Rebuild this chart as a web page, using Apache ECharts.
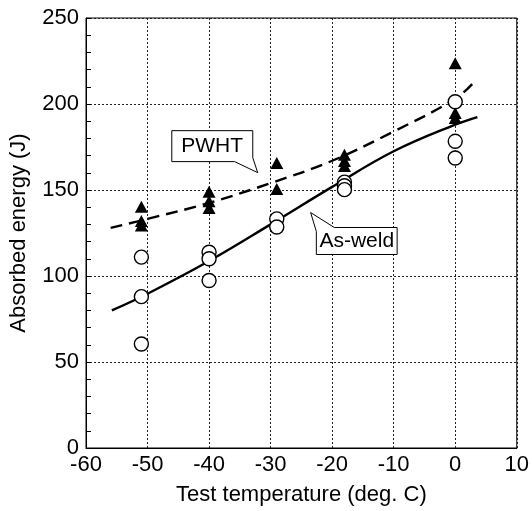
<!DOCTYPE html>
<html>
<head>
<meta charset="utf-8">
<script src="https://cdn.jsdelivr.net/npm/echarts@6/dist/echarts.min.js"></script>
<style>html,body{margin:0;padding:0;background:#fff}#c{width:532px;height:511px}</style>
</head>
<body>
<div id="c"></div>
<script>
// ---- data ----
var asWeldPoints = [
  [-51, 111], [-51, 88], [-51, 60.5],
  [-40, 113.8], [-40, 110], [-40, 97.4],
  [-29, 133.2], [-29, 128.5],
  [-18, 154.6], [-18, 152.5], [-18, 150.2],
  [0, 201.3], [0, 178.3], [0, 168.6]
];
var pwhtPoints = [
  [-51, 140.2], [-51, 132], [-51, 129.3],
  [-40, 149], [-40, 143.5], [-40, 139.6],
  [-29, 165.7], [-29, 150.6],
  [-18, 170.5], [-18, 166.8], [-18, 164],
  [0, 223.7], [0, 194.7], [0, 191.8]
];
var asWeldCurve = [
  [-55.8, 80], [-50, 89.7], [-40, 108.7], [-30, 130], [-20, 151.8], [-10, 172.5], [0, 188], [3.6, 192.4]
];
var pwhtCurve = [
  [-56, 128], [-50, 133.2], [-40, 142.5], [-30, 154], [-20, 167], [-10, 184], [0, 203], [3, 212.5]
];
var xTicks = [-60, -50, -40, -30, -20, -10, 0, 10];
var yTicks = [0, 50, 100, 150, 200, 250];
var calloutTexts = ['PWHT', 'As-weld'];

// ---- chart ----
var FONT = '"Liberation Sans", Arial, Helvetica, sans-serif';
var chart = echarts.init(document.getElementById('c'), null, {renderer: 'canvas'});
var gridLine = {show: true, lineStyle: {type: [2, 2], color: '#222', width: 1}};
chart.setOption({
  animation: false,
  backgroundColor: '#fff',
  grid: {left: 86, top: 18, right: 14, bottom: 62, show: true, borderColor: '#000', borderWidth: 1, backgroundColor: 'transparent'},
  xAxis: {
    type: 'value', min: xTicks[0], max: xTicks[xTicks.length - 1], interval: 10,
    name: 'Test temperature (deg. C)', nameLocation: 'middle', nameGap: 36,
    nameTextStyle: {fontFamily: FONT, fontSize: 22, color: '#000'},
    axisLine: {show: true, onZero: false, lineStyle: {color: '#000', width: 1}},
    axisTick: {show: false},
    axisLabel: {fontFamily: FONT, fontSize: 22, color: '#000', margin: 6},
    splitLine: gridLine
  },
  yAxis: {
    type: 'value', min: yTicks[0], max: yTicks[yTicks.length - 1], interval: 50,
    name: 'Absorbed energy (J)', nameLocation: 'middle', nameGap: 56,
    nameTextStyle: {fontFamily: FONT, fontSize: 22, color: '#000'},
    axisLine: {show: true, onZero: false, lineStyle: {color: '#000', width: 1}},
    axisTick: {show: true, inside: true, length: 5, lineStyle: {color: '#000'}},
    minorTick: {show: true, splitNumber: 5, length: 5, lineStyle: {color: '#000'}},
    axisLabel: {fontFamily: FONT, fontSize: 22, color: '#000', margin: 7},
    splitLine: gridLine
  },
  series: [
    {type: 'line', data: pwhtCurve, smooth: 0.4, symbol: 'none', z: 2,
     lineStyle: {color: '#000', width: 2.4, type: [12, 7]}},
    {type: 'line', data: asWeldCurve, smooth: 0.4, symbol: 'none', z: 2,
     lineStyle: {color: '#000', width: 2.4}},
    {type: 'scatter', data: pwhtPoints, symbol: 'triangle', symbolSize: [13, 12], z: 4,
     itemStyle: {color: '#000', opacity: 1}},
    {type: 'scatter', data: asWeldPoints, symbol: 'circle', symbolSize: 14, z: 5,
     itemStyle: {color: '#fff', borderColor: '#000', borderWidth: 1.4, opacity: 1}}
  ]
});

// ---- callouts (positions in data coordinates) ----
var callouts = [
  {text: calloutTexts[0], poly: [[-46.06, 184.5], [-32.9, 184.5], [-32.9, 168.8], [-32.1, 160.1], [-35.85, 166.5], [-46.06, 166.5]],
   center: [-39.5, 175.5]},
  {text: calloutTexts[1], poly: [[-22.57, 125.9], [-23.5, 136.9], [-19.65, 128.2], [-9.44, 128.2], [-9.44, 112.5], [-22.57, 112.5]],
   center: [-16.0, 120.3]}
];
function px(p) { return chart.convertToPixel({gridIndex: 0}, p); }
var elements = [];
callouts.forEach(function (c) {
  elements.push({type: 'polygon', z: 10, shape: {points: c.poly.map(px)},
    style: {fill: '#fff', stroke: '#000', lineWidth: 1}});
  var cc = px(c.center);
  elements.push({type: 'text', z: 11, x: cc[0], y: cc[1],
    style: {text: c.text, fontFamily: FONT, fontSize: 21, fill: '#000', align: 'center', verticalAlign: 'middle'}});
});
chart.setOption({graphic: elements});
</script>
</body>
</html>
